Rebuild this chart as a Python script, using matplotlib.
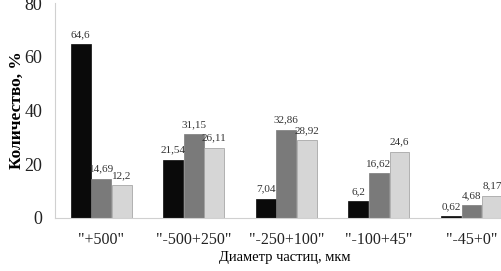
import matplotlib
matplotlib.use("Agg")
import matplotlib.pyplot as plt
import numpy as np

categories = ['"+500"', '"-500+250"', '"-250+100"', '"-100+45"', '"-45+0"']
series1 = [64.6, 21.54, 7.04, 6.2, 0.62]
series2 = [14.69, 31.15, 32.86, 16.62, 4.68]
series3 = [12.2, 26.11, 28.92, 24.6, 8.17]
yticks = [0, 20, 40, 60, 80]
colors = ["#0a0a0a", "#7a7a7a", "#d6d6d6"]

plt.rcParams['font.family'] = ['Liberation Serif', 'DejaVu Serif']

fig = plt.figure(figsize=(5.02, 2.71), dpi=100)
ax = fig.add_axes([55/502, 1-218/271, (502-55)/502, (218-3)/271])

x = np.arange(len(categories))
w = 0.215
off = 0.222
for i, (vals, c) in enumerate(zip([series1, series2, series3], colors)):
    pos = x + (i-1)*off
    ax.bar(pos, vals, width=w, color=c, edgecolor="#9a9a9a" if i == 2 else c, linewidth=0.5)
    for p, v in zip(pos, vals):
        ax.text(p, v + 2.0, f"{v:g}".replace('.', ','), ha='center', va='bottom', fontsize=8, color="#333333")

ax.set_xlim(-0.5, 4.33)
ax.set_ylim(0, 80)
ax.set_yticks(yticks)
ax.set_xticks(x)
ax.set_xticklabels(categories, fontsize=11.5)
ax.tick_params(axis='both', length=0, colors="#222222")
ax.tick_params(axis='y', labelsize=13, pad=9)
ax.tick_params(axis='x', pad=10)
for s in ['top', 'right']:
    ax.spines[s].set_visible(False)
for s in ['left', 'bottom']:
    ax.spines[s].set_color("#d0d0d0")
    ax.spines[s].set_linewidth(0.8)

ax.set_ylabel("Количество, %", fontsize=12.5, fontweight='bold')
ax.yaxis.set_label_coords(-30/447, 0.5)
fig.text(285/502, 1-258/271, "Диаметр частиц, мкм", ha='center', va='center', fontsize=10.5)

fig.savefig("out.png", dpi=100)
